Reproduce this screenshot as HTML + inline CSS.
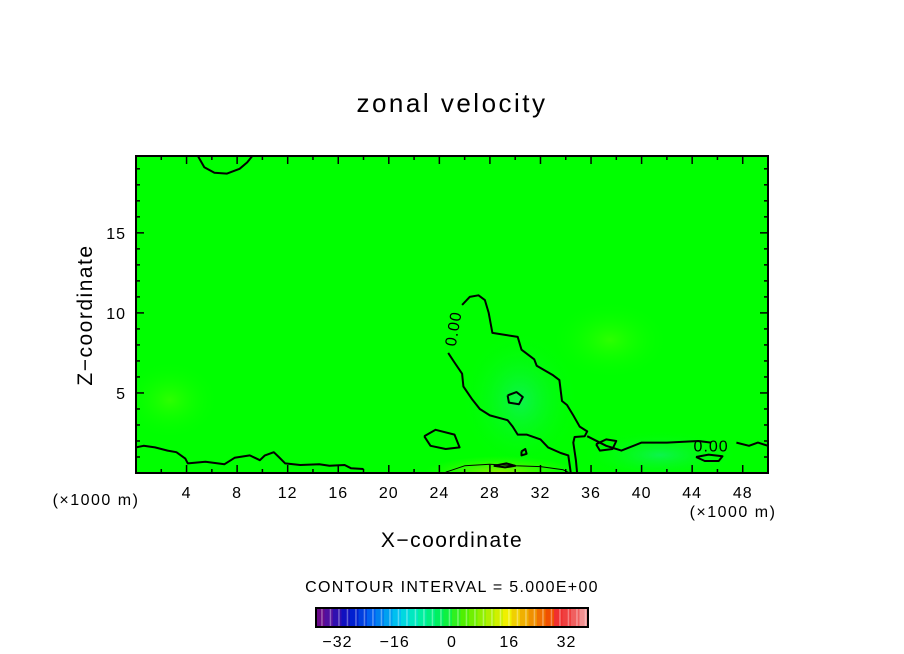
<!DOCTYPE html>
<html><head><meta charset="utf-8"><style>
body{margin:0;background:#fff;}
svg{display:block;font-family:"Liberation Sans",sans-serif;}
</style></head><body>
<svg id="chart" width="904" height="654" viewBox="0 0 904 654">
<defs>
<radialGradient id="gBlue" cx="0.5" cy="0.5" r="0.5"><stop offset="0" stop-color="#10f060" stop-opacity="0.8"/><stop offset="1" stop-color="#00ff00" stop-opacity="0"/></radialGradient>
<radialGradient id="gYel" cx="0.5" cy="0.5" r="0.5"><stop offset="0" stop-color="#a0f000" stop-opacity="0.9"/><stop offset="1" stop-color="#40ff00" stop-opacity="0"/></radialGradient>
<radialGradient id="gLt" cx="0.5" cy="0.5" r="0.5"><stop offset="0" stop-color="#40ff00" stop-opacity="0.7"/><stop offset="1" stop-color="#00ff00" stop-opacity="0"/></radialGradient>
<clipPath id="plotClip"><rect x="136" y="156" width="632" height="317"/></clipPath>
</defs>
<text x="452" y="112" text-anchor="middle" font-size="26" letter-spacing="2.5">zonal velocity</text>
<g id="plot" clip-path="url(#plotClip)">
<rect x="136" y="156" width="632" height="317" fill="#00ff00"/>
<ellipse cx="520" cy="400" rx="60" ry="70" fill="url(#gBlue)"/>
<ellipse cx="660" cy="455" rx="80" ry="25" fill="url(#gBlue)"/>
<ellipse cx="500" cy="472" rx="75" ry="16" fill="url(#gYel)"/>
<ellipse cx="610" cy="340" rx="60" ry="40" fill="url(#gLt)"/>
<ellipse cx="170" cy="400" rx="50" ry="40" fill="url(#gLt)"/>
<g id="contours"></g>
</g>
<rect x="136" y="156" width="632" height="317" fill="none" stroke="#000" stroke-width="2"/>
<g id="ticks"></g>
<text x="92" y="315" text-anchor="middle" font-size="21" letter-spacing="1.5" transform="rotate(-90 92 315)">Z−coordinate</text>
<text x="452" y="547" text-anchor="middle" font-size="21" letter-spacing="1.5">X−coordinate</text>
<text x="96" y="505" text-anchor="middle" font-size="16" letter-spacing="1.5">(×1000 m)</text>
<text x="733" y="517" text-anchor="middle" font-size="16" letter-spacing="1.5">(×1000 m)</text>
<text x="452" y="592" text-anchor="middle" font-size="16" letter-spacing="1.3">CONTOUR INTERVAL = 5.000E+00</text>
<g id="colorbar"></g>
</svg>
<script>
const xTicks=[4,8,12,16,20,24,28,32,36,40,44,48];
const yTicks=[5,10,15];
const cbTicks=[-32,-16,0,16,32];
const xMin=0,xMax=50,yMin=0,yMax=19.8;
const PX0=136,PX1=768,PY0=473,PY1=156;
const contourZeroBlob=[[25.8,10.5],[26.4,11.0],[27.1,11.1],[27.6,10.8],[27.9,10.0],[28.2,8.75],[30.2,8.5],[30.5,7.7],[31.5,7.1],[31.7,6.7],[33.0,6.1],[33.5,5.8],[33.7,4.5],[34.1,4.25],[34.6,3.6],[35.1,2.9],[35.7,2.6],[35.5,2.3],[34.7,2.25],[34.6,1.9],[34.8,0.8],[34.9,0]];
const contourZeroBlobLeft=[[24.7,7.5],[25.2,6.9],[25.8,6.2],[25.9,5.4],[26.6,4.6],[27.2,4.0],[28.0,3.6],[29.4,3.3],[29.8,2.9],[30.2,2.4],[30.9,2.4],[32.0,2.1],[32.6,1.6],[33.6,1.25],[34.2,1.1],[34.4,0]];
const contourBottomLeft=[[0,1.6],[0.6,1.7],[1.5,1.6],[2.5,1.4],[3.2,1.3],[3.9,0.9],[4.1,0.6],[5.5,0.7],[7,0.55],[7.8,0.95],[9,1.1],[9.8,0.8],[10.2,1.1],[10.9,1.3],[11.3,1.0],[11.8,0.6],[13.0,0.5],[14.5,0.55],[15.3,0.45],[16.5,0.5],[17.0,0.3],[18,0.25]];
const contourBottomRight=[[35.7,2.3],[37.2,1.7],[38.4,1.4],[40,1.9],[42,1.9],[44.5,2.0],[45.5,1.9]];
const contourBottomRight2=[[47.5,1.9],[48.5,1.7],[49.2,1.9],[50,1.7]];
const contourTopArc=[[4.9,19.8],[5.4,19.1],[6.2,18.75],[7.2,18.7],[8.2,19.0],[8.8,19.4],[9.2,19.8]];
const loopSmall1=[[22.8,2.3],[23.7,2.7],[25.2,2.4],[25.6,1.6],[24.5,1.5],[23.3,1.7],[22.8,2.3]];
const loopSmall2=[[29.4,4.85],[30.1,5.05],[30.6,4.75],[30.3,4.3],[29.5,4.4],[29.4,4.85]];
const loopSmall3=[[36.4,1.8],[37.2,2.1],[38.0,2.0],[37.7,1.5],[36.7,1.4],[36.4,1.8]];
const loopSmall4=[[44.3,1.0],[45.3,1.15],[46.4,1.05],[46.1,0.75],[45.0,0.75],[44.3,1.0]];
const loopSmall5=[[30.5,1.35],[30.8,1.5],[30.9,1.2],[30.5,1.1],[30.5,1.35]];
const loopSmall6=[[28.3,0.45],[29.3,0.6],[30.0,0.45],[29.2,0.35],[28.3,0.45]];
const contourPos=[[24.5,0.05],[26,0.45],[28,0.55],[30,0.45],[32,0.4],[33.8,0.2],[34.3,0]];
const labels=[{t:"0.00",x:25.2,y:9.0,r:-80},{t:"0.00",x:45.5,y:1.6,r:0}];
const cbColors=["#6a0a8a","#5010a0","#3010b0","#1010c0","#0020d0","#0040e0","#0060f0","#0080f0","#00a0f0","#00c0f0","#00d8e0","#00e8c0","#00f0a0","#00f080","#00f060","#10f040","#30f020","#50f000","#70f000","#90f000","#b0f000","#d0f000","#f0f000","#f0d000","#f0b000","#f09000","#f07000","#f05000","#f03030","#f04040","#f06060","#f09090"];
const NS="http://www.w3.org/2000/svg";
function sx(v){return PX0+(v-xMin)/(xMax-xMin)*(PX1-PX0);}
function sy(v){return PY0-(v-yMin)/(yMax-yMin)*(PY0-PY1);}
function mk(tag,attrs,parent){const e=document.createElementNS(NS,tag);for(const k in attrs)e.setAttribute(k,attrs[k]);parent.appendChild(e);return e;}
const cg=document.getElementById('contours');
function line(pts,name,w){
 const d=pts.map((p,i)=>(i?'L':'M')+sx(p[0]).toFixed(1)+','+sy(p[1]).toFixed(1)).join('');
 const p=mk('path',{d:d,fill:'none',stroke:'#000','stroke-width':w||2,'stroke-linejoin':'round'},cg);
 
 
}
line(contourZeroBlob,'contour-zero-blob-right');
line(contourZeroBlobLeft,'contour-zero-blob-left');
line(contourBottomLeft,'contour-zero-bottom-left');
line(contourBottomRight,'contour-zero-bottom-right');
line(contourBottomRight2,'contour-zero-bottom-right-end');
line(contourTopArc,'contour-zero-top-arc');
line(loopSmall1,'contour-loop-1');
line(loopSmall2,'contour-loop-2');
line(loopSmall3,'contour-loop-3');
line(loopSmall4,'contour-loop-4');
line(loopSmall5,'contour-loop-5');
line(loopSmall6,'contour-loop-6');
line(contourPos,'contour-positive',1);
labels.forEach(l=>{
 const t=mk('text',{x:sx(l.x),y:sy(l.y),'font-size':16,'letter-spacing':1,'text-anchor':'middle','dominant-baseline':'middle',transform:'rotate('+l.r+' '+sx(l.x)+' '+sy(l.y)+')'},cg);
 t.textContent=l.t;
 
 
});
const tg=document.getElementById('ticks');
for(let v=2;v<xMax;v+=2){
 const major=v%4===0,len=major?8:4;
 const a=mk('line',{x1:sx(v),x2:sx(v),y1:PY0,y2:PY0-len,stroke:'#000','stroke-width':1.5},tg);
 
 
 const b=mk('line',{x1:sx(v),x2:sx(v),y1:PY1,y2:PY1+len,stroke:'#000','stroke-width':1.5},tg);
 
 
}
for(let v=1;v<yMax;v+=1){
 const major=v%5===0,len=major?8:4;
 const a=mk('line',{x1:PX0,x2:PX0+len,y1:sy(v),y2:sy(v),stroke:'#000','stroke-width':1.5},tg);
 
 
 const b=mk('line',{x1:PX1,x2:PX1-len,y1:sy(v),y2:sy(v),stroke:'#000','stroke-width':1.5},tg);
 
 
}
xTicks.forEach(v=>{
 const t=mk('text',{x:sx(v),y:498,'text-anchor':'middle','font-size':16,'letter-spacing':1},tg);
 t.textContent=v;
 
 
});
yTicks.forEach(v=>{
 const t=mk('text',{x:126,y:sy(v)+6,'text-anchor':'end','font-size':16,'letter-spacing':1},tg);
 t.textContent=v;
 
 
});
const cb=document.getElementById('colorbar');
const CB0=316,CB1=588,CBY=608,CBH=19,cbMin=-38,cbMax=38;
function cx(v){return CB0+(v-cbMin)/(cbMax-cbMin)*(CB1-CB0);}
const cw=(CB1-CB0)/cbColors.length;
cbColors.forEach((c,i)=>{
 const r=mk('rect',{x:CB0+i*cw,y:CBY,width:cw+0.3,height:CBH,fill:c},cb);
 
 
 const s=mk('line',{x1:CB0+i*cw+cw*0.7,x2:CB0+i*cw+cw*0.7,y1:CBY,y2:CBY+CBH,stroke:'#fff','stroke-opacity':0.35,'stroke-width':1.5},cb);
 
 
});
const fr=mk('rect',{x:CB0,y:CBY,width:CB1-CB0,height:CBH,fill:'none',stroke:'#000','stroke-width':2},cb);


cbTicks.forEach(v=>{
 const t=mk('text',{x:cx(v),y:647,'text-anchor':'middle','font-size':16,'letter-spacing':1},cb);
 t.textContent=v<0?'−'+(-v):v;
 
 
});
</script>
</body></html>
